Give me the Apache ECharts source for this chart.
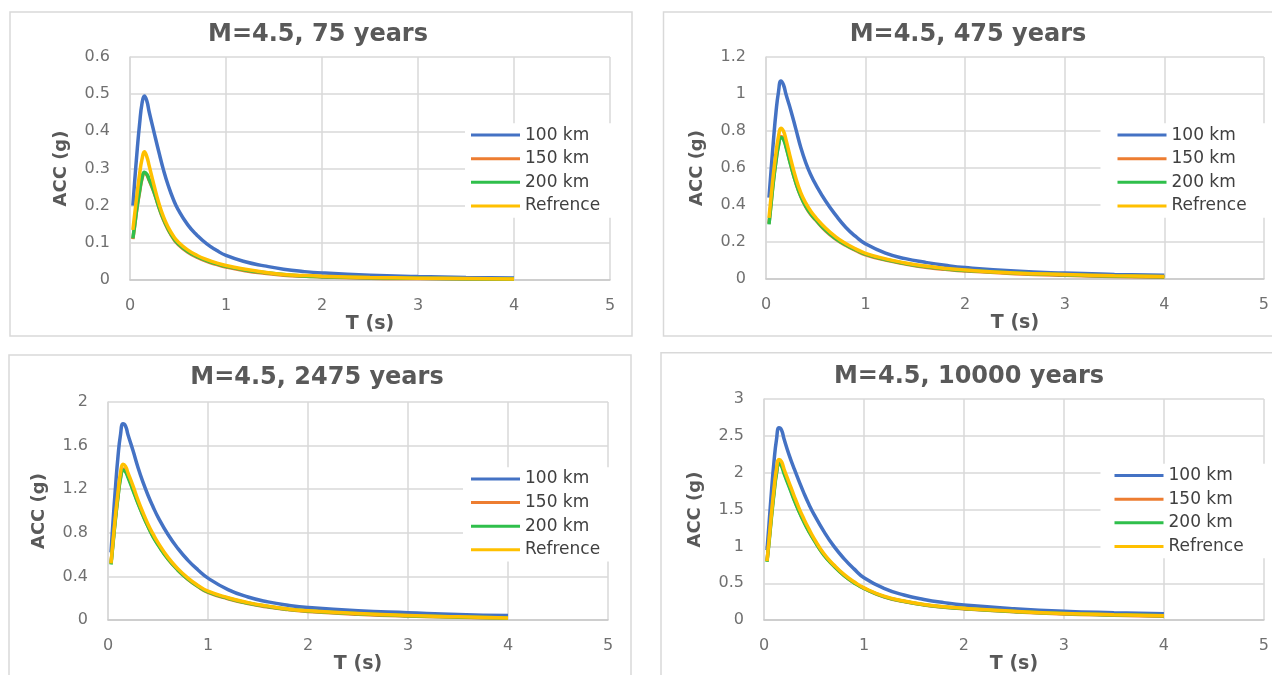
<!DOCTYPE html>
<html>
<head>
<meta charset="utf-8">
<script src="https://cdn.jsdelivr.net/npm/echarts@6/dist/echarts.min.js"></script>
<style>
html,body{margin:0;padding:0;background:#fff;}
#c{width:1272px;height:675px;}
</style>
</head>
<body>
<div id="c"></div>
<script>
// Period T (s)
const T = [0.03,0.05,0.075,0.1,0.125,0.15,0.175,0.2,0.25,0.3,0.35,0.4,0.45,0.5,0.6,0.7,0.8,0.9,1.0,1.2,1.4,1.6,1.8,2.0,2.5,3.0,3.5,4.0];
const seriesNames = ['100 km','150 km','200 km','Refrence'];
const titles = ['M=4.5, 75 years','M=4.5, 475 years','M=4.5, 2475 years','M=4.5, 10000 years'];
const xTicks = {min:0,max:5,interval:1};
const yMax = [0.6,1.2,2,3];
const yInterval = [0.1,0.2,0.4,0.5];

// 75 years
const y75_100 = [0.20,0.27,0.35,0.42,0.475,0.495,0.482,0.452,0.398,0.345,0.295,0.253,0.218,0.19,0.149,0.12,0.097,0.08,0.066,0.049,0.038,0.029,0.023,0.019,0.013,0.0095,0.007,0.0055];
const y75_150 = [0.11,0.148,0.197,0.237,0.272,0.288,0.283,0.268,0.236,0.196,0.161,0.134,0.112,0.096,0.075,0.061,0.05,0.042,0.035,0.025,0.018,0.013,0.01,0.008,0.005,0.004,0.003,0.002];
const y75_200 = [0.112,0.15,0.20,0.24,0.275,0.29,0.285,0.27,0.238,0.197,0.163,0.136,0.114,0.098,0.077,0.063,0.052,0.044,0.037,0.027,0.02,0.015,0.011,0.009,0.006,0.0045,0.0035,0.003];
const y75_ref = [0.135,0.18,0.235,0.285,0.325,0.345,0.332,0.307,0.255,0.207,0.169,0.141,0.119,0.103,0.081,0.066,0.055,0.046,0.039,0.029,0.021,0.015,0.012,0.01,0.007,0.005,0.004,0.003];

// 475 years
const y475_100 = [0.44,0.58,0.75,0.90,1.01,1.07,1.05,1.0,0.91,0.81,0.71,0.628,0.563,0.51,0.42,0.345,0.28,0.23,0.19,0.14,0.11,0.09,0.074,0.062,0.043,0.032,0.025,0.02];
const y475_150 = [0.30,0.405,0.535,0.64,0.725,0.77,0.76,0.72,0.615,0.52,0.446,0.39,0.349,0.318,0.26,0.216,0.182,0.155,0.131,0.102,0.081,0.064,0.052,0.043,0.029,0.02,0.014,0.01];
const y475_200 = [0.295,0.40,0.53,0.635,0.72,0.765,0.755,0.715,0.613,0.52,0.447,0.393,0.352,0.321,0.263,0.219,0.185,0.158,0.134,0.105,0.084,0.067,0.055,0.046,0.032,0.023,0.016,0.012];
const y475_ref = [0.33,0.44,0.57,0.68,0.77,0.815,0.80,0.755,0.645,0.545,0.466,0.41,0.366,0.332,0.274,0.228,0.192,0.163,0.139,0.109,0.087,0.07,0.057,0.048,0.033,0.024,0.017,0.013];

// 2475 years
const y2475_100 = [0.62,0.90,1.22,1.50,1.70,1.80,1.78,1.70,1.555,1.40,1.265,1.145,1.04,0.945,0.785,0.655,0.548,0.46,0.385,0.28,0.212,0.167,0.136,0.115,0.085,0.068,0.052,0.042];
const y2475_150 = [0.52,0.71,0.94,1.14,1.31,1.385,1.37,1.32,1.20,1.075,0.962,0.86,0.77,0.695,0.562,0.458,0.374,0.308,0.254,0.196,0.152,0.12,0.096,0.079,0.054,0.037,0.026,0.016];
const y2475_200 = [0.51,0.70,0.93,1.13,1.30,1.375,1.36,1.31,1.19,1.07,0.96,0.858,0.765,0.69,0.56,0.458,0.376,0.311,0.258,0.2,0.156,0.125,0.1,0.083,0.058,0.04,0.029,0.019];
const y2475_ref = [0.52,0.72,0.96,1.17,1.35,1.43,1.41,1.35,1.23,1.10,0.985,0.88,0.79,0.71,0.575,0.47,0.385,0.318,0.265,0.205,0.16,0.128,0.102,0.085,0.06,0.042,0.03,0.02];

// 10000 years
const y10000_100 = [0.95,1.30,1.75,2.15,2.45,2.61,2.58,2.46,2.245,2.06,1.885,1.72,1.57,1.435,1.20,1.0,0.835,0.695,0.575,0.43,0.34,0.28,0.237,0.205,0.155,0.12,0.1,0.085];
const y10000_150 = [0.80,1.07,1.42,1.74,2.01,2.14,2.11,2.01,1.83,1.645,1.48,1.335,1.205,1.09,0.885,0.735,0.607,0.508,0.43,0.316,0.252,0.205,0.174,0.152,0.112,0.083,0.066,0.052];
const y10000_200 = [0.79,1.05,1.40,1.72,1.99,2.12,2.09,1.99,1.815,1.635,1.475,1.33,1.20,1.085,0.88,0.733,0.605,0.508,0.43,0.318,0.255,0.208,0.178,0.156,0.117,0.088,0.071,0.058];
const y10000_ref = [0.80,1.08,1.45,1.78,2.05,2.18,2.15,2.05,1.87,1.69,1.52,1.37,1.235,1.11,0.90,0.748,0.62,0.52,0.438,0.325,0.26,0.213,0.182,0.16,0.12,0.09,0.073,0.06];

const panels = [
  [y75_100,y75_150,y75_200,y75_ref],
  [y475_100,y475_150,y475_200,y475_ref],
  [y2475_100,y2475_150,y2475_200,y2475_ref],
  [y10000_100,y10000_150,y10000_200,y10000_ref]
];

const colors = ['#4472C4','#ED7D31','#2FBF4B','#FFC000'];
const layout = [
  {grid:{left:130,top:57,width:480,height:223}, box:[10,12,622,324], title:[318,35], legend:{left:465,top:123.3,pad:[0,14,0,6]}},
  {grid:{left:766,top:57,width:500,height:222}, box:[663.5,12,640,324], title:[968,35], legend:{left:1100.5,top:123.3,pad:[0,22,0,17]}},
  {grid:{left:108,top:402,width:500,height:222}, box:[9,355,622,340], title:[317,378], legend:{left:463,top:467.2,pad:[0,14,0,8]}},
  {grid:{left:764,top:399,width:500,height:223}, box:[661,352.7,640,340], title:[969,377], legend:{left:1100.5,top:463.8,pad:[0,22,0,14]}}
];

const TICK_FONT = 'DejaVu Sans';
const grid=[], xAxis=[], yAxis=[], series=[], legend=[], graphic=[];
layout.forEach((L,p)=>{
  grid.push(L.grid);
  xAxis.push({type:'value', gridIndex:p, min:xTicks.min, max:xTicks.max, interval:xTicks.interval,
    name:'T (s)', nameLocation:'middle', nameGap:28,
    nameTextStyle:{fontFamily:'DejaVu Sans', fontWeight:'bold', fontSize:19, color:'#595959'},
    axisLine:{show:true, lineStyle:{color:'#c8c8c8', width:1.5}},
    axisTick:{show:false},
    axisLabel:{margin:18, fontFamily:TICK_FONT, fontSize:16, color:'#707070'},
    splitLine:{show:true, lineStyle:{color:'#d9d9d9', width:1.5}}
  });
  yAxis.push({type:'value', gridIndex:p, min:0, max:yMax[p], interval:yInterval[p],
    name:'ACC (g)', nameLocation:'middle', nameGap:60,
    nameTextStyle:{fontFamily:'DejaVu Sans', fontWeight:'bold', fontSize:18, color:'#595959'},
    axisLine:{show:true, lineStyle:{color:'#d9d9d9', width:1.5}},
    axisTick:{show:false},
    axisLabel:{margin:20, fontFamily:TICK_FONT, fontSize:16, color:'#707070'},
    splitLine:{show:true, lineStyle:{color:'#d9d9d9', width:1.5}}
  });
  panels[p].forEach((arr,k)=>{
    series.push({type:'line', name:seriesNames[k], xAxisIndex:p, yAxisIndex:p,
      data:T.map((t,i)=>[t,arr[i]]), showSymbol:false, smooth:0.5,
      lineStyle:{width:3.5, color:colors[k]}, itemStyle:{color:colors[k]}, z:2+k});
  });
  legend.push({orient:'vertical', left:L.legend.left, top:L.legend.top, padding:L.legend.pad,
    backgroundColor:'#ffffff', itemGap:0, itemWidth:49, itemHeight:3, icon:'rect',
    data:seriesNames, selectedMode:false, z:20,
    textStyle:{fontFamily:'DejaVu Sans', fontSize:17, color:'#404040', lineHeight:23.6}});
  graphic.push({type:'rect', shape:{x:L.box[0], y:L.box[1], width:L.box[2], height:L.box[3]},
    style:{fill:'none', stroke:'#d9d9d9', lineWidth:1.5}, silent:true, z:-1});
  graphic.push({type:'text', x:L.title[0], y:L.title[1],
    style:{text:titles[p], fontFamily:'DejaVu Sans', fontWeight:'bold', fontSize:24, fill:'#595959',
      textAlign:'center', textVerticalAlign:'middle'}, silent:true});
});

const chart = echarts.init(document.getElementById('c'), null, {renderer:'canvas'});
chart.setOption({
  animation:false, backgroundColor:'#ffffff', color:colors,
  grid, xAxis, yAxis, series, legend, graphic
});
</script>
</body>
</html>
